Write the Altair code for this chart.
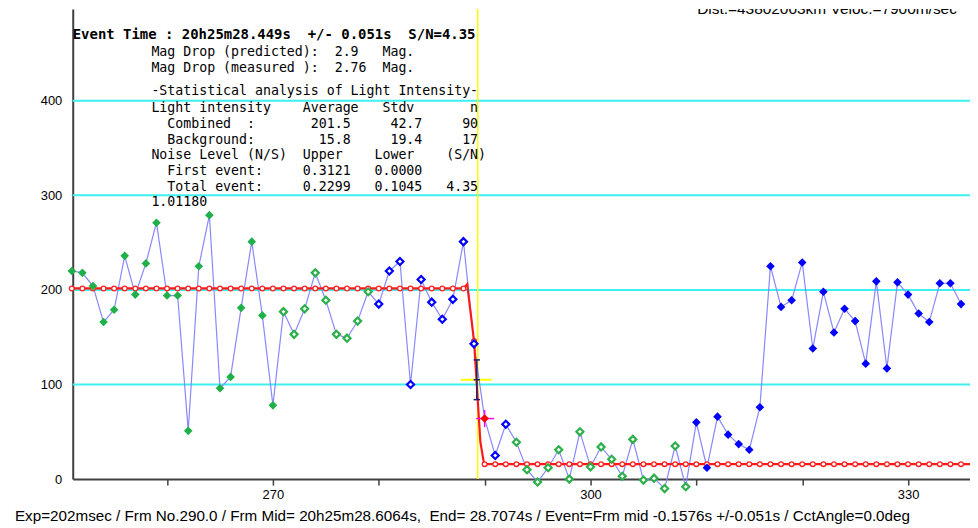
import altair as alt
import pandas as pd

# ---------------- data ----------------
frames = list(range(251, 336))
intensity = [220, 218, 204, 166, 179, 236, 195, 228, 271, 194, 194, 51, 225, 279, 96, 108, 181, 251, 173, 78,
             177, 153, 180, 218, 189, 153, 149, 167, 198, 185, 220, 230, 100, 211, 187, 169, 190, 251, 143, 64,
             25, 58, 39, 10, -3, 12, 31, 0, 50, 13, 34, 21, 3, 42, -1, 1, -10, 35, -8, 60,
             12, 66, 47, 37, 31, 76, 225, 182, 189, 229, 138, 198, 155, 180, 167, 122, 209, 117, 208, 195,
             175, 166, 207, 207, 185]
point_kind = (["green_filled"] * 20 + ["green_open"] * 9 + ["blue_open"] * 10 + ["red_filled"]
              + ["blue_open"] * 2 + ["green_open"] * 17 + ["blue_filled"] * 26)
model_level = [201.5] * 38 + [146.0] + [15.8] * 46

model_curve_x = [251.0, 288.0, 288.2, 288.35, 289.0, 289.6, 289.95, 335.85]
model_curve_y = [201.5, 201.5, 204.0, 206.0, 146.0, 39.0, 15.8, 15.8]

grid_levels = [100, 200, 300, 400]
event_time = 289.35
timing_span = [287.77, 290.65]
timing_level = 105
err_x = 289.26
err_levels = [84, 105, 126]
mark_frame, mark_value = 290, 64
cross_x = [289.2, 290.9]
cross_y = [55, 73]

x_tick_values = [260, 270, 280, 290, 300, 310, 320, 330]
y_tick_values = [0, 100, 200, 300, 400]
x_domain = [251.09, 335.85]
y_domain = [0, 496.8]

kind_domain = ["green_filled", "green_open", "blue_open", "blue_filled", "red_filled"]
kind_range = ["#1fb04a", "#2bb04a", "#0000ff", "#0000ff", "#ff0000"]

NB = "\u00a0"
def nb(s):
    return s.replace(" ", NB)

# (text, indented?)
stats_lines = [
    ("Mag Drop (predicted):  2.9   Mag.", False),
    ("Mag Drop (measured ):  2.76  Mag.", False),
    ("-Statistical analysis of Light Intensity-", False),
    ("Light intensity    Average   Stdv       n", False),
    ("Combined  :       201.5     42.7     90", True),
    ("Background:        15.8     19.4     17", True),
    ("Noise Level (N/S)  Upper    Lower    (S/N)", False),
    ("First event:     0.3121   0.0000", True),
    ("Total event:     0.2299   0.1045   4.35", True),
    ("1.01180", False),
]
stats_y = [43, 59, 82, 99, 115, 131, 147, 163, 179, 194]
event_line = "Event Time : 20h25m28.449s  +/- 0.051s  S/N=4.35"
bottom_line = ("Exp=202msec / Frm No.290.0 / Frm Mid= 20h25m28.6064s,  End= 28.7074s / "
               "Event=Frm mid -0.1576s +/-0.051s / CctAngle=0.0deg")
top_line = "Dist.=43802003km Veloc.=7900m/sec"

# ---------------- tables ----------------
obs = pd.DataFrame({"frame": frames, "value": intensity, "kind": point_kind, "model": model_level})
curve = pd.DataFrame({"x": model_curve_x, "y": model_curve_y})
grid = pd.DataFrame({"level": grid_levels})

xscale = alt.Scale(domain=x_domain, nice=False, zero=False)
yscale = alt.Scale(domain=y_domain, nice=False, zero=False)
xaxis = alt.Axis(values=x_tick_values, labelExpr="datum.value % 30 === 0 ? datum.label : ''",
                 grid=False, tickSize=6, tickWidth=1.5, labelPadding=3, title=None, labelFlush=False)
yaxis = alt.Axis(values=y_tick_values, ticks=False, grid=False, labelPadding=11, title=None)

def X(f):
    return alt.X(f, type="quantitative", scale=xscale, axis=xaxis)

def Y(f):
    return alt.Y(f, type="quantitative", scale=yscale, axis=yaxis)

color_scale = alt.Scale(domain=kind_domain, range=kind_range)

layers = []
layers.append(alt.Chart(grid).mark_rule(color="#3ef0f0", strokeWidth=2).encode(y=Y("level")))
layers.append(alt.Chart(pd.DataFrame({"t": [event_time]})).mark_rule(color="#ffff00", strokeWidth=1.5)
              .encode(x=X("t")))
layers.append(alt.Chart(obs).mark_line(color="#8888ff", strokeWidth=1.2).encode(x=X("frame"), y=Y("value")))
layers.append(alt.Chart(curve).mark_line(color="#ff1a1a", strokeWidth=2.2).encode(x=X("x"), y=Y("y")))
layers.append(alt.Chart(obs).mark_point(shape="circle", filled=False, size=22, strokeWidth=1.3,
                                        color="#ff2020", opacity=1)
              .encode(x=X("frame"), y=Y("model"), fill=alt.value("white")))
# magenta cross under the highlighted point
layers.append(alt.Chart(pd.DataFrame({"x1": [cross_x[0]], "x2": [cross_x[1]], "y": [mark_value]}))
              .mark_rule(color="#ff00ff", strokeWidth=1.5).encode(x=X("x1"), x2="x2", y=Y("y")))
layers.append(alt.Chart(pd.DataFrame({"x": [mark_frame], "y1": [cross_y[0]], "y2": [cross_y[1]]}))
              .mark_rule(color="#ff00ff", strokeWidth=1.5).encode(x=X("x"), y=Y("y1"), y2="y2"))
# data points
layers.append(alt.Chart(obs).transform_filter(alt.FieldOneOfPredicate(field="kind", oneOf=["green_open", "blue_open"]))
              .mark_point(shape="diamond", filled=False, size=50, strokeWidth=2.2, opacity=1)
              .encode(x=X("frame"), y=Y("value"), fill=alt.value("white"),
                      stroke=alt.Stroke("kind:N", scale=color_scale, legend=None)))
layers.append(alt.Chart(obs).transform_filter(alt.FieldOneOfPredicate(field="kind", oneOf=["green_filled", "blue_filled", "red_filled"]))
              .mark_point(shape="diamond", filled=True, size=75, opacity=1)
              .encode(x=X("frame"), y=Y("value"),
                      color=alt.Color("kind:N", scale=color_scale, legend=None)))
# timing error bars
layers.append(alt.Chart(pd.DataFrame({"x1": [timing_span[0]], "x2": [timing_span[1]], "y": [timing_level]}))
              .mark_rule(color="#ffff00", strokeWidth=2).encode(x=X("x1"), x2="x2", y=Y("y")))
layers.append(alt.Chart(pd.DataFrame({"x": [err_x], "y1": [err_levels[0]], "y2": [err_levels[2]]}))
              .mark_rule(color="#20206a", strokeWidth=1.5).encode(x=X("x"), y=Y("y1"), y2="y2"))
caps = pd.DataFrame({"x1": [err_x - 0.3] * 3, "x2": [err_x + 0.3] * 3, "y": err_levels})
layers.append(alt.Chart(caps).mark_rule(color="#20206a", strokeWidth=1.5).encode(x=X("x1"), x2="x2", y=Y("y")))

# ---------------- texts ----------------
def label(txt, px, py, **kw):
    return (alt.Chart(pd.DataFrame({"t": [nb(txt)]}))
            .mark_text(align="left", **kw)
            .encode(x=alt.value(px), y=alt.value(py), text="t:N"))

layers.append(label(event_line, 0, 26, baseline="middle", font="DejaVu Sans Mono", fontSize=14,
                    fontWeight="bold", color="black"))
for (line, indented), py in zip(stats_lines, stats_y):
    layers.append(label(line, 95 if indented else 79, py, baseline="middle", font="DejaVu Sans Mono",
                        fontSize=13.3, color="black"))
layers.append(label(bottom_line, -58, 514, baseline="alphabetic", font="Liberation Sans", fontSize=15.3,
                    color="black"))
layers.append(label(top_line, 627, 5, baseline="alphabetic", font="Liberation Sans", fontSize=15.5,
                    color="black", clip=True))

chart = (alt.layer(*layers)
         .properties(width=901, height=472, background="white",
                     autosize=alt.AutoSizeParams(type="none"),
                     padding={"left": 65, "top": 0, "right": 0, "bottom": 44})
         .configure_view(stroke=None)
         .configure_axis(labelFont="Liberation Sans", labelFontSize=13, labelColor="black",
                         domainColor="#404040", domainWidth=2, tickColor="#404040"))

chart.save("out.html", embed_options={"renderer": "svg", "actions": False})
